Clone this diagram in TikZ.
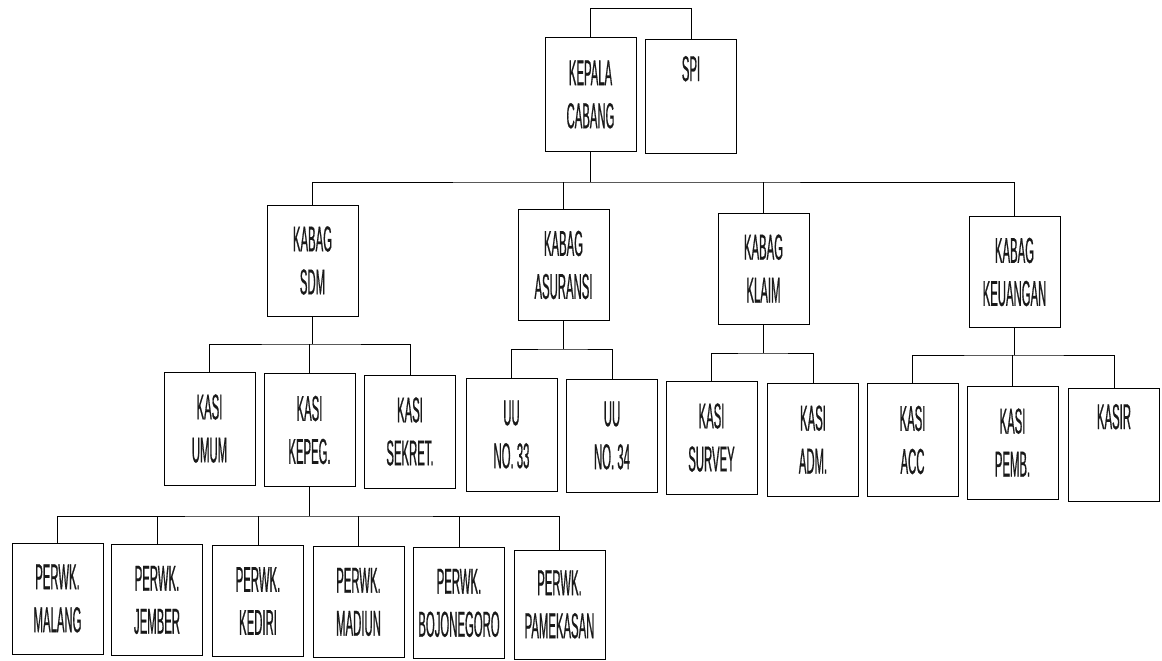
\documentclass[tikz,border=0pt]{standalone}
\usepackage{fontspec}
\newfontfamily\labfont[FakeStretch=0.315,FakeBold=0.5]{Liberation Sans}
\newcommand{\lab}{\labfont\fontsize{36}{43}\selectfont}
\begin{document}
\begin{tikzpicture}[x=1pt,y=-1pt,
  box/.style={draw, line width=1pt, minimum width=91pt, minimum height=111pt, inner sep=0pt, align=center, font=\lab, text=black!90},
  link/.style={draw, line width=1pt}]
\useasboundingbox (0,0) rectangle (1162,661);
% level 0
\node[box, minimum height=113pt] (kc) at (590.5,94.5) {KEPALA\\CABANG};
\node[box, minimum height=113pt] (spi) at (691,96.5) {SPI\\\strut};
% level 1
\node[box] (sdm) at (312.5,260.5) {KABAG\\SDM};
\node[box] (asu) at (563.5,265) {KABAG\\ASURANSI};
\node[box] (klaim) at (763.5,268.5) {KABAG\\KLAIM};
\node[box] (keu) at (1014.5,272) {KABAG\\KEUANGAN};
% level 2
\node[box, minimum height=113pt] (umum) at (209.5,428.5) {KASI\\UMUM};
\node[box, minimum height=113pt] (kepeg) at (309.5,430) {KASI\\KEPEG.};
\node[box, minimum height=113pt] (sekret) at (410,431.5) {KASI\\SEKRET.};
\node[box, minimum height=113pt] (uu33) at (511.5,434.5) {UU\\NO. 33};
\node[box, minimum height=113pt] (uu34) at (612,435.5) {UU\\NO. 34};
\node[box, minimum height=113pt] (survey) at (711.5,437.5) {KASI\\SURVEY};
\node[box, minimum height=113pt] (adm) at (813,439.5) {KASI\\ADM.};
\node[box, minimum height=113pt] (acc) at (912.5,440) {KASI\\ACC};
\node[box, minimum height=113pt] (pemb) at (1012.5,442.5) {KASI\\PEMB.};
\node[box, minimum height=113pt] (kasir) at (1114,444.5) {KASIR\\\strut};
% level 3
\node[box] (malang) at (57.5,598.5) {PERWK.\\MALANG};
\node[box] (jember) at (157,600) {PERWK.\\JEMBER};
\node[box] (kediri) at (258,601) {PERWK.\\KEDIRI};
\node[box] (madiun) at (358.5,602) {PERWK.\\MADIUN};
\node[box] (bojo) at (459,603) {PERWK.\\BOJONEGORO};
\node[box, minimum height=109pt] (pame) at (559.5,604.5) {PERWK.\\PAMEKASAN};
% connectors
\path[link] (kc.north) -- ++(0,-29) -| (spi.north);
\coordinate (b1) at (590.5,182);
\path[link] (kc.south) -- (b1);
\path[link] (sdm.north) |- (b1) -| (keu.north);
\path[link] (asu.north) -- (asu.north |- b1);
\path[link] (klaim.north) -- (klaim.north |- b1);
% SDM
\coordinate (b2) at (312.5,344);
\path[link] (sdm.south) -- (b2);
\path[link] (umum.north) |- (b2) -| (sekret.north);
\path[link] (kepeg.north) -- (kepeg.north |- b2);
% ASURANSI
\coordinate (b3) at (563.5,349);
\path[link] (asu.south) -- (b3);
\path[link] (uu33.north) |- (b3) -| (uu34.north);
% KLAIM
\coordinate (b4) at (763.5,353);
\path[link] (klaim.south) -- (b4);
\path[link] (survey.north) |- (b4) -| (adm.north);
% KEUANGAN
\coordinate (b5) at (1014.5,355);
\path[link] (keu.south) -- (b5);
\path[link] (acc.north) |- (b5) -| (kasir.north);
\path[link] (pemb.north) -- (pemb.north |- b5);
% KEPEG
\coordinate (b6) at (309.5,516);
\path[link] (kepeg.south) -- (b6);
\path[link] (malang.north) |- (b6) -| (pame.north);
\path[link] (jember.north) -- (jember.north |- b6);
\path[link] (kediri.north) -- (kediri.north |- b6);
\path[link] (madiun.north) -- (madiun.north |- b6);
\path[link] (bojo.north) -- (bojo.north |- b6);
\end{tikzpicture}
\end{document}
